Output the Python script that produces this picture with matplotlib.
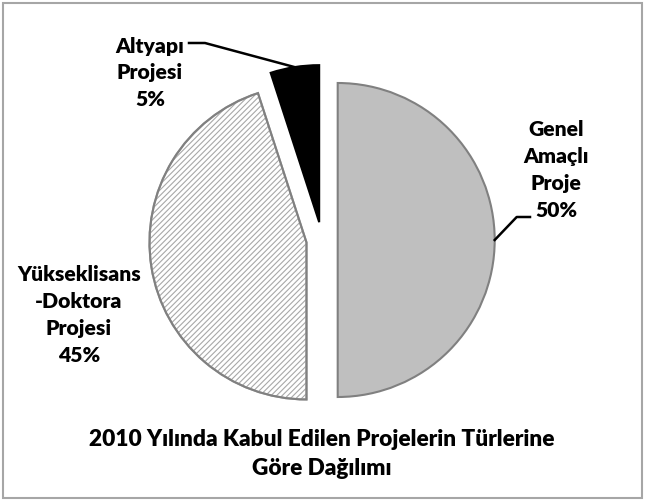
import numpy as np
import matplotlib.pyplot as plt
from matplotlib.patches import Rectangle

plt.rcParams['font.family'] = ['Lato', 'DejaVu Sans']
plt.rcParams['hatch.linewidth'] = 0.8

# data
labels = ["Genel\nAmaçlı\nProje", "Yükseklisans\n-Doktora\nProjesi", "Altyapı\nProjesi"]
values = [50, 45, 5]
title = "2010 Yılında Kabul Edilen Projelerin Türlerine\nGöre Dağılımı"

colors = ["#bfbfbf", "white", "black"]
hatches = [None, "//////", None]
explode_frac = [0.1, 0.1, 0.115]

fig = plt.figure(figsize=(6.45, 5), dpi=100)
ax = fig.add_axes([0, 0, 1, 1])

center = (322, 260)
radius = 157
explode = [f * radius for f in explode_frac]
wedges, _ = ax.pie(values, startangle=90, counterclock=False, explode=explode,
                   colors=colors, center=center, radius=radius, frame=True,
                   wedgeprops=dict(edgecolor="#808080", linewidth=1.5))
for w, h in zip(wedges, hatches):
    if h:
        w.set_hatch(h)
        w.set_edgecolor("#a8a8a8")
        # darker outline drawn on top
        ax.add_patch(plt.matplotlib.patches.Wedge(w.center, w.r, w.theta1, w.theta2,
                                                  fill=False, edgecolor="#808080", lw=1.5))
wedges[2].set_edgecolor("black")
ax.set_xlim(0, 645)
ax.set_ylim(0, 500)
ax.set_aspect("equal")
ax.axis("off")

pct = [f"{v}%" for v in values]
txt_kw = dict(ha="center", va="center", fontsize=15.2, fontweight="heavy", linespacing=1.48)

# Genel Amacli Proje - right side with leader
ax.text(556, 330, labels[0] + "\n" + pct[0], **txt_kw)
w = wedges[0]
a = np.deg2rad((w.theta1 + w.theta2) / 2)
p = (w.center[0] + radius * np.cos(a), w.center[1] + radius * np.sin(a))
ax.plot([p[0], p[0] + 22, 530], [p[1], 283, 283], color="black", lw=1.8)

# Yukseklisans label - left, no leader
ax.text(79, 185, labels[1] + "\n" + pct[1], **txt_kw)

# Altyapi label - top left with leader
ax.text(150, 427, labels[2] + "\n" + pct[2], **txt_kw)
w = wedges[2]
a = np.deg2rad((w.theta1 + w.theta2) / 2)
p = (w.center[0] + radius * np.cos(a), w.center[1] + radius * np.sin(a))
ax.plot([189, 205, p[0]], [457, 457, p[1]], color="black", lw=1.8)

ax.text(322, 46, title, ha="center", va="center", fontsize=16.3, fontweight="heavy",
        linespacing=1.45)

fig.patches.append(Rectangle((0.004, 0.005), 0.992, 0.99, transform=fig.transFigure,
                             fill=False, edgecolor="#a6a6a6", linewidth=1.5))

fig.savefig("out.png", dpi=100)
